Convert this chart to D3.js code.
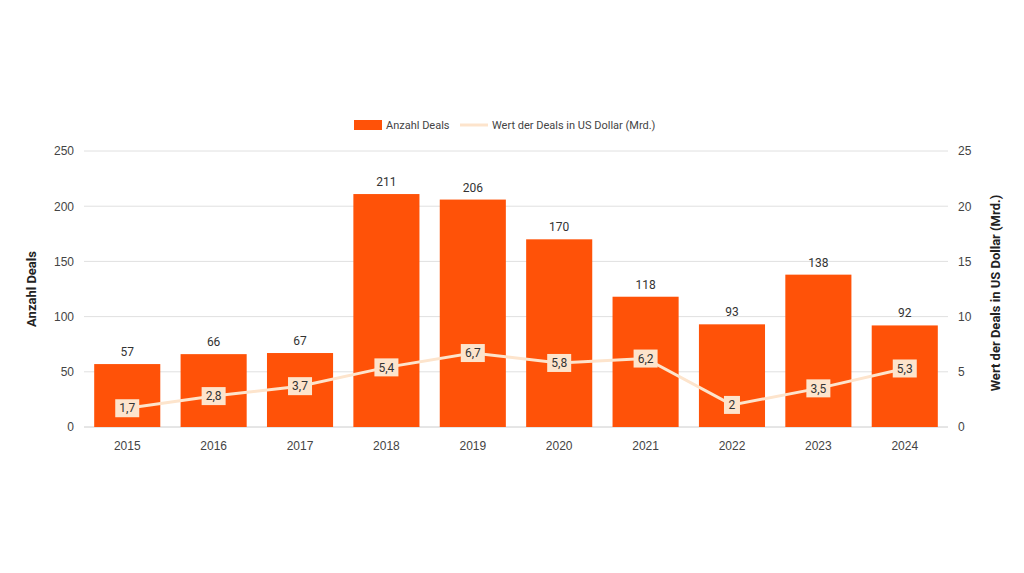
<!DOCTYPE html>
<html><head><meta charset="utf-8">
<script src="https://cdn.jsdelivr.net/npm/d3@7"></script>
<style>body{margin:0;background:#fff;font-family:Roboto,"Liberation Sans",sans-serif}</style>
</head><body><svg id="c" width="1024" height="573"></svg>
<script>
const years = ['2015','2016','2017','2018','2019','2020','2021','2022','2023','2024'];
const deals = [57, 66, 67, 211, 206, 170, 118, 93, 138, 92];
const value = [1.7, 2.8, 3.7, 5.4, 6.7, 5.8, 6.2, 2, 3.5, 5.3];
const leftTicks = [0, 50, 100, 150, 200, 250];
const rightTicks = [0, 5, 10, 15, 20, 25];

const svg = d3.select('#c');
const m = { left: 84, right: 948, top: 151, bottom: 427 };
const x = d3.scaleBand().domain(years).range([m.left, m.right]).paddingInner(0.235).paddingOuter(0.118);
const yL = d3.scaleLinear().domain([0, 250]).range([m.bottom, m.top]);
const yR = d3.scaleLinear().domain([0, 25]).range([m.bottom, m.top]);
const orange = '#ff5208', cream = '#fde4cc';

// grid
leftTicks.forEach(t => {
  svg.append('line').attr('x1', m.left).attr('x2', m.right)
    .attr('y1', yL(t)).attr('y2', yL(t))
    .attr('stroke', t === 0 ? '#cccccc' : '#e0e0e0').attr('stroke-width', 1);
});
const txt = (sel) => sel.attr('font-size', 12).attr('fill', '#444');
svg.append('g').attr('transform', `translate(${m.left - 10},0)`)
  .call(d3.axisLeft(yL).tickValues(leftTicks).tickSize(0).tickPadding(0))
  .call(g => g.select('.domain').remove())
  .call(g => txt(g.selectAll('text')).attr('font-family', 'inherit'));
svg.append('g').attr('transform', `translate(${m.right + 10},0)`)
  .call(d3.axisRight(yR).tickValues(rightTicks).tickSize(0).tickPadding(0))
  .call(g => g.select('.domain').remove())
  .call(g => txt(g.selectAll('text')).attr('font-family', 'inherit'));
svg.append('g').attr('transform', `translate(0,${m.bottom + 6})`)
  .call(d3.axisBottom(x).tickSize(0).tickPadding(8))
  .call(g => g.select('.domain').remove())
  .call(g => txt(g.selectAll('text')).attr('font-family', 'inherit'));

// bars
svg.selectAll('rect.bar').data(years).join('rect').attr('class', 'bar')
  .attr('x', d => x(d)).attr('width', x.bandwidth())
  .attr('y', (d, i) => yL(deals[i])).attr('height', (d, i) => yL(0) - yL(deals[i]))
  .attr('fill', orange);
svg.selectAll('text.bl').data(years).join('text').attr('class', 'bl')
  .attr('x', d => x(d) + x.bandwidth() / 2).attr('y', (d, i) => yL(deals[i]) - 8)
  .attr('text-anchor', 'middle').attr('font-size', 12).attr('fill', '#333')
  .text((d, i) => deals[i]);

// line
const cx = d => x(d) + x.bandwidth() / 2;
svg.append('path').datum(years)
  .attr('d', d3.line().x(cx).y((d, i) => yR(value[i])))
  .attr('fill', 'none').attr('stroke', cream).attr('stroke-width', 3);
const lg = svg.selectAll('g.vl').data(years).join('g').attr('class', 'vl')
  .attr('transform', (d, i) => `translate(${cx(d)},${yR(value[i])})`);
lg.append('rect').attr('x', (d, i) => String(value[i]).length > 1 ? -12 : -8).attr('y', -9)
  .attr('width', (d, i) => String(value[i]).length > 1 ? 24 : 16).attr('height', 18).attr('fill', cream);
lg.append('text').attr('text-anchor', 'middle').attr('dy', '0.35em')
  .attr('font-size', 12).attr('fill', '#333')
  .text((d, i) => String(value[i]).replace('.', ','));

// axis titles
svg.append('text').attr('transform', `translate(36,${(m.top + m.bottom) / 2}) rotate(-90)`)
  .attr('text-anchor', 'middle').attr('font-size', 13).attr('font-weight', 'bold').attr('fill', '#222')
  .text('Anzahl Deals');
svg.append('text').attr('transform', `translate(1000,${(m.top + m.bottom) / 2 + 4}) rotate(-90)`)
  .attr('text-anchor', 'middle').attr('font-size', 13).attr('font-weight', 'bold').attr('fill', '#222')
  .text('Wert der Deals in US Dollar (Mrd.)');

// legend
svg.append('rect').attr('x', 354).attr('y', 120).attr('width', 28).attr('height', 10).attr('fill', orange);
svg.append('text').attr('x', 386).attr('y', 129).attr('font-size', 11).attr('fill', '#444').text('Anzahl Deals');
svg.append('line').attr('x1', 460).attr('x2', 488).attr('y1', 125).attr('y2', 125).attr('stroke', cream).attr('stroke-width', 3);
svg.append('text').attr('x', 492).attr('y', 129).attr('font-size', 11).attr('fill', '#444').text('Wert der Deals in US Dollar (Mrd.)');
</script></body></html>
